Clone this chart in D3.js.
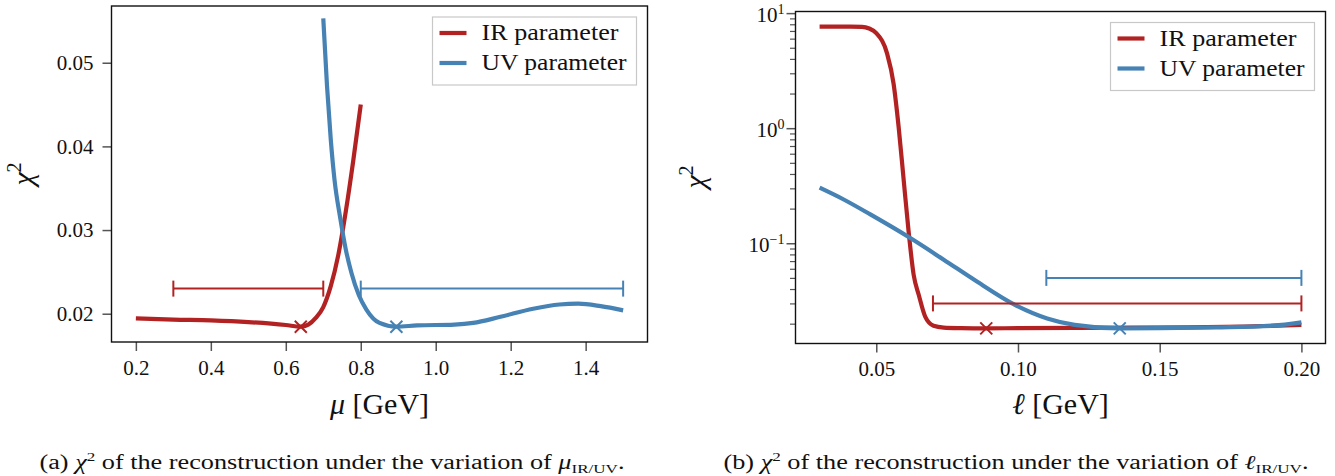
<!DOCTYPE html>
<html>
<head>
<meta charset="utf-8">
<script src="https://cdn.jsdelivr.net/npm/d3@7"></script>
<style>
	body { margin: 0; background: #fff; }
	svg { display: block; }
	svg text, svg tspan { font-family: "Liberation Serif", "Times New Roman", serif !important; fill: #111; }
</style>
</head>
<body>
<script>
// panel (a): chi^2 against mu
const muIR = [0.2, 0.3, 0.4, 0.5, 0.6, 0.64, 0.66, 0.68, 0.7, 0.72, 0.74, 0.76, 0.78, 0.8];
const chiMuIR = [0.01945, 0.0193, 0.0192, 0.0190, 0.01865, 0.01845, 0.0187, 0.0195, 0.0208, 0.0233, 0.0270, 0.0322, 0.0383, 0.0450];
const muUV = [0.7, 0.71, 0.72, 0.73, 0.745, 0.76, 0.775, 0.795, 0.815, 0.85, 0.895, 0.95, 1.05, 1.1, 1.17, 1.26, 1.33, 1.38, 1.44, 1.5];
const chiMuUV = [0.0553, 0.0472, 0.0408, 0.0360, 0.0315, 0.0277, 0.0249, 0.0222, 0.0205, 0.0189, 0.01845, 0.0186, 0.0187, 0.0189, 0.0196, 0.0206, 0.0211, 0.0212, 0.0209, 0.0204];
const muMin = [[0.64, 0.01845], [0.895, 0.01845]];        // IR, UV
const muRange = [[0.3, 0.7, 0.023], [0.8, 1.5, 0.023]];    // from, to, height
const muTicks = [0.2, 0.4, 0.6, 0.8, 1.0, 1.2, 1.4];
const chiTicks = [0.02, 0.03, 0.04, 0.05];

// panel (b): chi^2 against ell (log axis)
const ellIR = [0.03, 0.035, 0.04, 0.045, 0.0475, 0.05, 0.0538, 0.0561, 0.0579, 0.0596, 0.0614, 0.0632, 0.065, 0.0673, 0.0702, 0.0738, 0.08, 0.0888, 0.10, 0.12, 0.14, 0.16, 0.18, 0.2];
const chiEllIR = [7.64, 7.64, 7.63, 7.6, 7.35, 6.7, 4.47, 2.44, 1.02, 0.37, 0.127, 0.053, 0.0355, 0.0229, 0.0192, 0.0185, 0.0183, 0.0182, 0.0183, 0.0184, 0.0185, 0.0186, 0.0189, 0.0195];
const ellUV = [0.03, 0.0385, 0.0479, 0.062, 0.0738, 0.0855, 0.0991, 0.1103, 0.12, 0.1359, 0.15, 0.17, 0.19, 0.2];
const chiEllUV = [0.304, 0.240, 0.178, 0.111, 0.072, 0.0465, 0.029, 0.0222, 0.0195, 0.0182, 0.0183, 0.0186, 0.0192, 0.0205];
const ellMin = [[0.0888, 0.0182], [0.1359, 0.0182]];
const ellRange = [[0.07, 0.2, 0.03], [0.11, 0.2, 0.05]];
const ellTicks = [0.05, 0.10, 0.15, 0.20];
const logTicks = [-1, 0, 1];

const legendNames = ['IR parameter', 'UV parameter'];

let red = '#b22222',
		blue = '#4682b4',
		tickGrey = '#555',
		serif = '"Liberation Serif", "Times New Roman", serif';

let svg = d3.select('body').append('svg')
		.attr('width', 1335)
		.attr('height', 476)
		.style('font-family', serif);

function frame(box) {
	svg.append('rect')
			.attr('x', box.left)
			.attr('y', box.top)
			.attr('width', box.right - box.left)
			.attr('height', box.bottom - box.top)
			.attr('fill', 'none')
			.attr('stroke', '#111')
			.attr('stroke-width', 1.4);
}

function styleAxis(g) {
	g.attr('font-family', serif);
	g.select('.domain').remove();
	g.selectAll('.tick line').attr('stroke', tickGrey).attr('stroke-width', 1.5);
	g.selectAll('.tick text')
			.attr('fill', '#111')
			.style('font-family', serif)
			.style('font-size', '21px');
}

function curve(x, y, xs, ys, colour) {
	let line = d3.line()
			.x(d => x(d[0]))
			.y(d => y(d[1]))
			.curve(d3.curveMonotoneX);
	svg.append('path')
			.attr('d', line(xs.map((v, i) => [v, ys[i]])))
			.attr('fill', 'none')
			.attr('stroke', colour)
			.attr('stroke-width', 4.2);
}

function errBar(x, y, r, colour) {
	let g = svg.append('g').attr('stroke', colour).attr('stroke-width', 2);
	g.append('line')
			.attr('x1', x(r[0])).attr('x2', x(r[1]))
			.attr('y1', y(r[2])).attr('y2', y(r[2]));
	[r[0], r[1]].forEach(v => {
		g.append('line')
				.attr('x1', x(v)).attr('x2', x(v))
				.attr('y1', y(r[2]) - 8).attr('y2', y(r[2]) + 8);
	});
}

function cross(x, y, p, colour) {
	let cx = x(p[0]), cy = y(p[1]), s = 6;
	svg.append('path')
			.attr('d', `M${cx - s},${cy - s}L${cx + s},${cy + s}M${cx - s},${cy + s}L${cx + s},${cy - s}`)
			.attr('stroke', colour)
			.attr('stroke-width', 2);
}

function legend(right, top) {
	let w = 204, h = 68;
	let g = svg.append('g').attr('transform', `translate(${right - w},${top})`);
	g.append('rect')
			.attr('width', w).attr('height', h)
			.attr('fill', '#fff')
			.attr('stroke', '#c8c8c8')
			.attr('stroke-width', 1.2);
	legendNames.forEach((name, i) => {
		let ly = 16 + i * 30;
		g.append('line')
				.attr('x1', 7).attr('x2', 34)
				.attr('y1', ly).attr('y2', ly)
				.attr('stroke', i == 0 ? red : blue)
				.attr('stroke-width', 4.2);
		g.append('text')
				.attr('x', 49).attr('y', ly + 7)
				.attr('textLength', i == 0 ? 137 : 145)
				.attr('lengthAdjust', 'spacingAndGlyphs')
				.style('font-size', '23px')
				.text(name);
	});
}

function yLabel(cx, cy) {
	let t = svg.append('text')
			.attr('transform', `translate(${cx},${cy}) rotate(-90)`)
			.attr('text-anchor', 'middle')
			.style('font-size', '30px');
	t.append('tspan').style('font-style', 'italic').text('χ');
	t.append('tspan').attr('dy', -12).style('font-size', '20px').text('2');
}

function caption(cx, letter, sym) {
	let t = svg.append('text')
			.attr('x', cx).attr('y', 469)
			.attr('text-anchor', 'middle')
			.attr('textLength', 585)
			.attr('lengthAdjust', 'spacingAndGlyphs')
			.style('font-size', '20px');
	t.append('tspan').text(`(${letter}) `);
	t.append('tspan').style('font-style', 'italic').text('χ');
	t.append('tspan').attr('dy', -8).style('font-size', '13px').text('2');
	t.append('tspan').attr('dy', 8).text(' of the reconstruction under the variation of ');
	t.append('tspan').style('font-style', 'italic').text(sym);
	t.append('tspan').attr('dy', 4).style('font-size', '13px').text('IR/UV');
	t.append('tspan').attr('dy', -4).text('.');
}

function xLabel(cx, sym) {
	let t = svg.append('text')
			.attr('x', cx).attr('y', 414)
			.attr('text-anchor', 'middle')
			.style('font-size', '30px');
	t.append('tspan').style('font-style', 'italic').text(sym);
	t.append('tspan').text(' [GeV]');
}

// ---------- panel (a) ----------
let boxA = {left: 111.5, right: 647.5, top: 6, bottom: 342};
let xA = d3.scaleLinear().domain([0.135, 1.565]).range([boxA.left, boxA.right]);
let yA = d3.scaleLinear().domain([0.01662, 0.05678]).range([boxA.bottom, boxA.top]);

svg.append('g')
		.attr('transform', `translate(0,${boxA.bottom})`)
		.call(d3.axisBottom(xA).tickValues(muTicks).tickFormat(d3.format('.1f')).tickSize(9).tickPadding(9))
		.call(styleAxis);
svg.append('g')
		.attr('transform', `translate(${boxA.left},0)`)
		.call(d3.axisLeft(yA).tickValues(chiTicks).tickFormat(d3.format('.2f')).tickSize(9).tickPadding(9))
		.call(styleAxis);

curve(xA, yA, muIR, chiMuIR, red);
curve(xA, yA, muUV, chiMuUV, blue);
errBar(xA, yA, muRange[0], red);
errBar(xA, yA, muRange[1], blue);
cross(xA, yA, muMin[0], red);
cross(xA, yA, muMin[1], blue);
frame(boxA);
legend(636.5, 17);
yLabel(33, 174);
xLabel((boxA.left + boxA.right) / 2, 'μ');

// ---------- panel (b) ----------
let boxB = {left: 795.5, right: 1325.5, top: 11.5, bottom: 343.5};
let xB = d3.scaleLinear().domain([0.0215, 0.2085]).range([boxB.left, boxB.right]);
let yB = d3.scaleLog().domain([0.01345, 10.33]).range([boxB.bottom, boxB.top]);

svg.append('g')
		.attr('transform', `translate(0,${boxB.bottom})`)
		.call(d3.axisBottom(xB).tickValues(ellTicks).tickFormat(d3.format('.2f')).tickSize(9).tickPadding(9))
		.call(styleAxis);

// minor log ticks 2..9 x 10^k
let minor = [];
[-2, -1, 0].forEach(k => d3.range(2, 10).forEach(m => {
	let v = m * Math.pow(10, k);
	if (v > yB.domain()[0] && v < yB.domain()[1]) minor.push(v);
}));
svg.append('g')
		.attr('transform', `translate(${boxB.left},0)`)
		.call(d3.axisLeft(yB).tickValues(minor).tickFormat('').tickSize(5.5))
		.call(styleAxis)
		.selectAll('.tick line').attr('stroke-width', 1.2);
let yAxisB = svg.append('g')
		.attr('transform', `translate(${boxB.left},0)`)
		.call(d3.axisLeft(yB).tickValues(logTicks.map(k => Math.pow(10, k))).tickFormat('').tickSize(9))
		.call(styleAxis);
yAxisB.selectAll('.tick').each(function(d) {
	let k = Math.round(Math.log10(d));
	let t = d3.select(this).append('text')
			.attr('x', -11).attr('y', 8)
			.attr('text-anchor', 'end')
			.attr('fill', '#111')
			.style('font-size', '21px');
	t.append('tspan').text('10');
	t.append('tspan').attr('dy', -8).style('font-size', '14px').text(k < 0 ? '\u2212' + (-k) : k);
});

curve(xB, yB, ellIR, chiEllIR, red);
curve(xB, yB, ellUV, chiEllUV, blue);
errBar(xB, yB, ellRange[0], red);
errBar(xB, yB, ellRange[1], blue);
cross(xB, yB, ellMin[0], red);
cross(xB, yB, ellMin[1], blue);
frame(boxB);
legend(1314.5, 22.5);
yLabel(705, 177);
xLabel((boxB.left + boxB.right) / 2, 'ℓ');

caption(332, 'a', 'μ');
caption(1016, 'b', 'ℓ');
</script>
</body>
</html>
